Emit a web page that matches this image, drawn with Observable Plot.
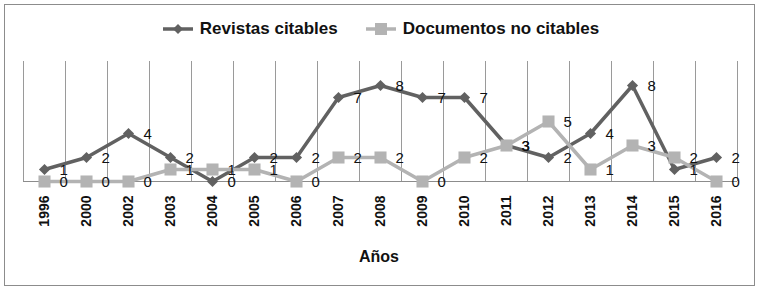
<!DOCTYPE html>
<html>
<head>
<meta charset="utf-8">
<script src="https://cdn.jsdelivr.net/npm/d3@7"></script>
<script src="https://cdn.jsdelivr.net/npm/@observablehq/plot@0.6"></script>
<style>
  html, body { margin: 0; padding: 0; background: #fff; }
  #wrap { position: relative; width: 758px; height: 290px; font-family: "Liberation Sans", Arial, sans-serif; overflow: hidden; background: #fff; }
  #border { position: absolute; left: 4px; top: 4px; width: 751px; height: 282px; box-sizing: border-box; border: 1px solid #8c8c8c; z-index: 5; pointer-events: none; }
  #legend { position: absolute; left: 0; top: 17px; width: 762px; height: 24px; display: flex; justify-content: center; align-items: center; gap: 28px; font-weight: bold; font-size: 17px; color: #111; }
  .item { display: flex; align-items: center; gap: 7px; }
  #chart { position: absolute; left: 0; top: 48px; }
  #xtitle { position: absolute; left: 0; width: 758px; top: 248px; text-align: center; font-weight: bold; font-size: 16px; color: #111; }
</style>
</head>
<body>
<div id="wrap">
  <div id="border"></div>
  <div id="legend"></div>
  <div id="chart"></div>
  <div id="xtitle">Años</div>
</div>
<script>
const years = ["1996","2000","2002","2003","2004","2005","2006","2007","2008","2009","2010","2011","2012","2013","2014","2015","2016"];
const revistas = [1,2,4,2,0,2,2,7,8,7,7,3,2,4,8,1,2];
const documentos = [0,0,0,1,1,1,0,2,2,0,2,3,5,1,3,2,0];
const seriesNames = ["Revistas citables", "Documentos no citables"];
const colors = ["#616161", "#b3b3b3"];

const idx = d3.range(years.length);
const rowsR = idx.map(i => ({i, v: revistas[i]}));
const rowsD = idx.map(i => ({i, v: documentos[i]}));
const bounds = d3.range(years.length + 1);

const plot = Plot.plot({
  width: 758,
  height: 242,
  marginLeft: 23,
  marginRight: 21,
  marginTop: 13,
  marginBottom: 109,
  x: {type: "linear", domain: [-0.5, years.length - 0.5], axis: null},
  y: {domain: [0, 10], axis: null},
  style: {fontFamily: "'Liberation Sans', Arial, sans-serif", background: "transparent", overflow: "visible"},
  marks: [
    Plot.ruleX(bounds, {x: d => d - 0.5, y1: 0, y2: 10, stroke: "#9a9a9a", strokeWidth: 1}),
    Plot.ruleY([0], {stroke: "#8c8c8c", strokeWidth: 1.2}),
    Plot.text(idx, {x: i => i, y: 0, text: i => years[i], rotate: -90, textAnchor: "end", lineAnchor: "middle", dy: 14, fontWeight: "bold", fontSize: 14, fill: "#111"}),
    Plot.line(rowsR, {x: "i", y: "v", stroke: colors[0], strokeWidth: 3.5}),
    Plot.dot(rowsR, {x: "i", y: "v", symbol: "diamond2", r: 5, fill: colors[0], stroke: "none"}),
    Plot.line(rowsD, {x: "i", y: "v", stroke: colors[1], strokeWidth: 3.5}),
    Plot.dot(rowsD, {x: "i", y: "v", symbol: "square", r: 6.8, fill: colors[1], stroke: "none"}),
    Plot.text(rowsR, {x: "i", y: "v", text: d => String(d.v), textAnchor: "start", dx: 15, dy: 1, fontSize: 15, fill: "#111"}),
    Plot.text(rowsD, {x: "i", y: "v", text: d => String(d.v), textAnchor: "start", dx: 15, dy: 1, fontSize: 15, fill: "#111"})
  ]
});
document.getElementById("chart").appendChild(plot);

// legend
const legend = document.getElementById("legend");
seriesNames.forEach((name, k) => {
  const item = document.createElement("div");
  item.className = "item";
  const sw = d3.create("svg").attr("width", 30).attr("height", 14);
  sw.append("line").attr("x1", 0).attr("x2", 30).attr("y1", 7).attr("y2", 7).attr("stroke", colors[k]).attr("stroke-width", 3.5);
  if (k === 0) {
    sw.append("path").attr("d", "M15,2L20,7L15,12L10,7Z").attr("fill", colors[k]);
  } else {
    sw.append("rect").attr("x", 9).attr("y", 1).attr("width", 12).attr("height", 12).attr("fill", colors[k]);
  }
  item.appendChild(sw.node());
  const t = document.createElement("span");
  t.textContent = name;
  item.appendChild(t);
  legend.appendChild(item);
});
</script>
</body>
</html>
